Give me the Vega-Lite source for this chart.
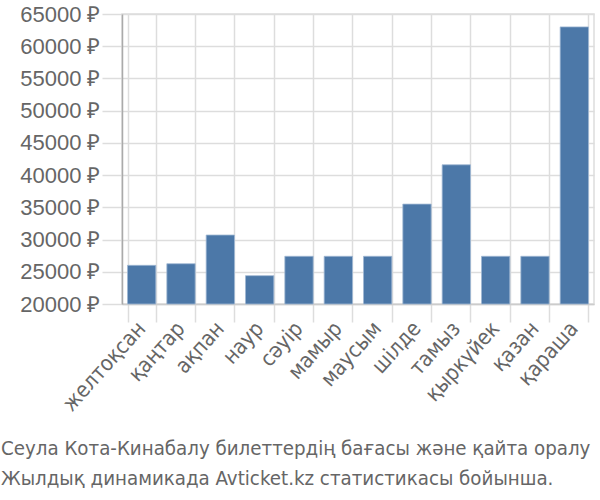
{
  "$schema": "https://vega.github.io/schema/vega-lite/v6.json",
  "width": 472,
  "height": 290,
  "autosize": {"type": "none"},
  "padding": {"left": 122, "top": 14, "right": 6, "bottom": 196},
  "background": "white",
  "title": {
    "text": ["Сеула Кота-Кинабалу билеттердің бағасы және қайта оралу", "Жылдық динамикада Avticket.kz статистикасы бойынша."],
    "orient": "bottom",
    "anchor": "start",
    "frame": "group",
    "dx": -121,
    "offset": 24,
    "font": "DejaVu Sans Condensed",
    "fontSize": 20.3,
    "fontWeight": "normal",
    "color": "#666666",
    "lineHeight": 30
  },
  "config": {
    "view": {"stroke": "#dddddd", "strokeWidth": 1.5}
  },
  "data": {
    "values": [
      {"month": "желтоқсан", "price": 26000},
      {"month": "қаңтар", "price": 26250},
      {"month": "ақпан", "price": 30700},
      {"month": "наур", "price": 24400},
      {"month": "сәуір", "price": 27400},
      {"month": "мамыр", "price": 27400},
      {"month": "маусым", "price": 27400},
      {"month": "шілде", "price": 35500},
      {"month": "тамыз", "price": 41600},
      {"month": "қыркүйек", "price": 27400},
      {"month": "қазан", "price": 27400},
      {"month": "қараша", "price": 63000}
    ]
  },
  "mark": {"type": "bar", "color": "#4c78a8", "stroke": "#9fb8d3", "strokeWidth": 0.8},
  "encoding": {
    "x": {
      "field": "month",
      "type": "nominal",
      "sort": null,
      "scale": {"paddingInner": 0.28, "paddingOuter": 0.14},
      "axis": {
        "title": null,
        "tickBand": "extent",
        "grid": true,
        "gridColor": "#dddddd",
        "gridWidth": 1.5,
        "tickColor": "#dddddd",
        "tickWidth": 1.5,
        "tickSize": 18,
        "domainColor": "#cccccc",
        "domainWidth": 1.5,
        "labelAngle": -48,
        "labelAlign": "right",
        "labelBaseline": "middle",
        "labelFont": "DejaVu Sans Condensed",
        "labelFontSize": 21.5,
        "labelColor": "#666666",
        "labelPadding": 3
      }
    },
    "y": {
      "field": "price",
      "type": "quantitative",
      "scale": {"domain": [20000, 65000], "nice": false, "zero": false},
      "axis": {
        "title": null,
        "values": [20000, 25000, 30000, 35000, 40000, 45000, 50000, 55000, 60000, 65000],
        "labelExpr": "datum.value + ' ₽'",
        "grid": true,
        "gridColor": "#dddddd",
        "gridWidth": 1.5,
        "tickColor": "#dddddd",
        "tickWidth": 1.5,
        "tickSize": 20,
        "domainColor": "#aaaaaa",
        "domainWidth": 1.5,
        "labelFont": "Liberation Sans",
        "labelFontSize": 22,
        "labelColor": "#666666",
        "labelPadding": 2
      }
    },
    "y2": {"datum": 20000}
  }
}
